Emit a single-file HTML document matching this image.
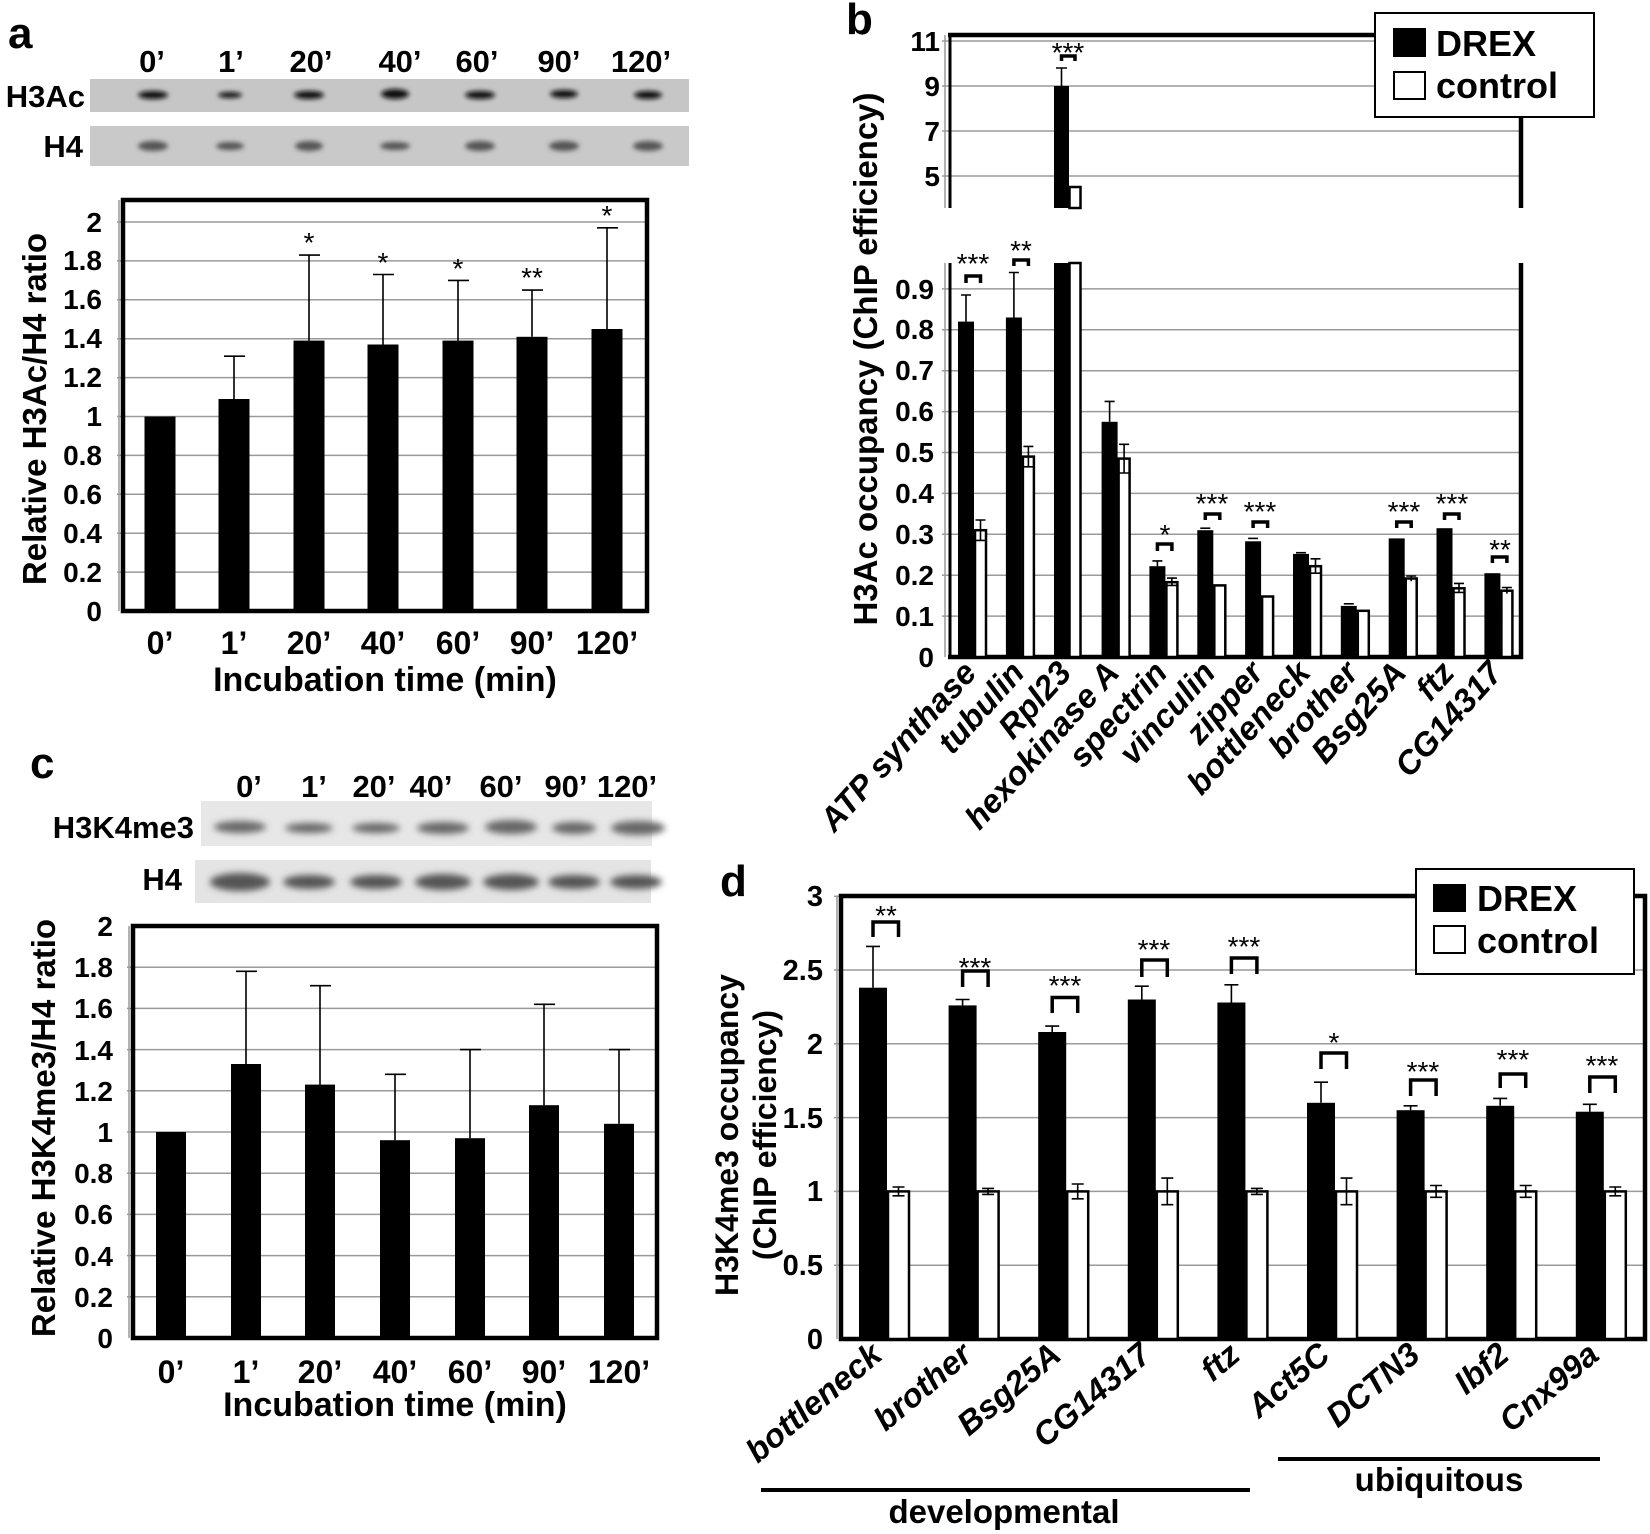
<!DOCTYPE html>
<html><head><meta charset="utf-8"><style>
html,body{margin:0;padding:0;background:#fff;}
svg{display:block;font-family:"Liberation Sans",Arial,sans-serif;font-weight:bold;}
</style></head><body>
<svg width="1650" height="1534" viewBox="0 0 1650 1534" xmlns="http://www.w3.org/2000/svg">
<defs>
<filter id="bl" x="-50%" y="-50%" width="200%" height="200%"><feGaussianBlur stdDeviation="2.5"/></filter>
<filter id="bl2" x="-50%" y="-50%" width="200%" height="200%"><feGaussianBlur stdDeviation="3.5"/></filter>
</defs>

<!-- ===== Panel a ===== -->
<text x="8" y="48" font-size="44">a</text>
<g font-size="31" text-anchor="middle">
<text x="152" y="72">0’</text><text x="231" y="72">1’</text><text x="311" y="72">20’</text><text x="400" y="72">40’</text><text x="477" y="72">60’</text><text x="559" y="72">90’</text><text x="641" y="72">120’</text>
</g>
<text x="85" y="107" font-size="31" text-anchor="end">H3Ac</text>
<text x="83" y="157" font-size="31" text-anchor="end">H4</text>
<rect x="90" y="79" width="599" height="33" fill="#c6c6c6"/>
<rect x="90" y="126" width="599" height="40" fill="#c9c9c9"/>
<g fill="#111" filter="url(#bl)">
<ellipse cx="153" cy="95" rx="15" ry="4"/><ellipse cx="230" cy="95" rx="12" ry="3"/><ellipse cx="309" cy="95" rx="15" ry="4"/><ellipse cx="395" cy="94" rx="14" ry="5"/><ellipse cx="480" cy="95" rx="15" ry="4"/><ellipse cx="564" cy="94" rx="14" ry="4"/><ellipse cx="648" cy="95" rx="14" ry="4"/>
</g>
<g fill="#555" filter="url(#bl)">
<ellipse cx="153" cy="146" rx="15" ry="5"/><ellipse cx="230" cy="146" rx="14" ry="4"/><ellipse cx="309" cy="146" rx="14" ry="5"/><ellipse cx="395" cy="146" rx="15" ry="4"/><ellipse cx="480" cy="146" rx="15" ry="5"/><ellipse cx="564" cy="146" rx="15" ry="5"/><ellipse cx="648" cy="146" rx="15" ry="5"/>
</g>
<g stroke="#9a9a9a" stroke-width="1.5">
<line x1="117" y1="572.1" x2="647" y2="572.1"/><line x1="117" y1="533.2" x2="647" y2="533.2"/><line x1="117" y1="494.3" x2="647" y2="494.3"/><line x1="117" y1="455.4" x2="647" y2="455.4"/><line x1="117" y1="416.5" x2="647" y2="416.5"/><line x1="117" y1="377.6" x2="647" y2="377.6"/><line x1="117" y1="338.7" x2="647" y2="338.7"/><line x1="117" y1="299.8" x2="647" y2="299.8"/><line x1="117" y1="260.9" x2="647" y2="260.9"/><line x1="117" y1="222" x2="647" y2="222"/>
<line x1="119" y1="200" x2="119" y2="611"/>
</g>
<g fill="#000">
<rect x="144.5" y="416.5" width="31" height="194.5"/><rect x="218.5" y="399" width="31" height="212"/><rect x="293.5" y="340.6" width="31" height="270.4"/><rect x="367.5" y="344.5" width="31" height="266.5"/><rect x="442.5" y="340.6" width="31" height="270.4"/><rect x="516.5" y="336.8" width="31" height="274.2"/><rect x="591.5" y="329" width="31" height="282"/>
</g>
<g stroke="#000" stroke-width="1.6">
<path d="M234 399V356.2M224 356.2H245"/><path d="M309 340.6V255.1M299 255.1H320"/><path d="M383 344.5V274.5M373 274.5H394"/><path d="M458 340.6V280.4M448 280.4H469"/><path d="M532 336.8V290.1M522 290.1H543"/><path d="M607 329V227.8M597 227.8H618"/>
</g>
<rect x="123" y="200" width="524" height="411" fill="none" stroke="#000" stroke-width="4.5"/>
<g font-size="28" font-weight="normal" text-anchor="middle">
<text x="309" y="252">*</text><text x="383" y="272">*</text><text x="458" y="278">*</text><text x="532" y="287">**</text><text x="607" y="225">*</text>
</g>
<g font-size="28" text-anchor="end">
<text x="102" y="621">0</text><text x="102" y="582">0.2</text><text x="102" y="543">0.4</text><text x="102" y="504">0.6</text><text x="102" y="465">0.8</text><text x="102" y="426">1</text><text x="102" y="387">1.2</text><text x="102" y="348">1.4</text><text x="102" y="309">1.6</text><text x="102" y="270">1.8</text><text x="102" y="232">2</text>
</g>
<g font-size="32" text-anchor="middle">
<text x="160" y="654">0’</text><text x="234" y="654">1’</text><text x="309" y="654">20’</text><text x="383" y="654">40’</text><text x="458" y="654">60’</text><text x="532" y="654">90’</text><text x="607" y="654">120’</text>
</g>
<text x="385" y="691" font-size="34" text-anchor="middle">Incubation time (min)</text>
<text transform="translate(46,409) rotate(-90)" font-size="33" text-anchor="middle">Relative H3Ac/H4 ratio</text>

<!-- ===== Panel c ===== -->
<text x="30" y="778" font-size="44">c</text>
<g font-size="31" text-anchor="middle">
<text x="249" y="797">0’</text><text x="314" y="797">1’</text><text x="374" y="797">20’</text><text x="431" y="797">40’</text><text x="501" y="797">60’</text><text x="566" y="797">90’</text><text x="627" y="797">120’</text>
</g>
<text x="194" y="838" font-size="31" text-anchor="end">H3K4me3</text>
<text x="182" y="890" font-size="31" text-anchor="end">H4</text>
<rect x="201" y="801" width="451" height="45" fill="#e7e7e7"/>
<rect x="195" y="860" width="456" height="43" fill="#e4e4e4"/>
<g fill="#666" filter="url(#bl2)">
<ellipse cx="240" cy="827" rx="26" ry="6"/><ellipse cx="309" cy="828" rx="24" ry="5"/><ellipse cx="376" cy="828" rx="24" ry="5"/><ellipse cx="443" cy="828" rx="26" ry="6"/><ellipse cx="511" cy="827" rx="26" ry="7"/><ellipse cx="574" cy="828" rx="22" ry="6"/><ellipse cx="638" cy="828" rx="27" ry="7"/>
</g>
<g fill="#555" filter="url(#bl2)">
<ellipse cx="240" cy="882" rx="30" ry="9"/><ellipse cx="309" cy="882" rx="26" ry="7"/><ellipse cx="376" cy="882" rx="26" ry="7"/><ellipse cx="443" cy="882" rx="28" ry="8"/><ellipse cx="511" cy="882" rx="28" ry="8"/><ellipse cx="574" cy="882" rx="26" ry="7"/><ellipse cx="636" cy="882" rx="26" ry="7"/>
</g>
<g stroke="#9a9a9a" stroke-width="1.5">
<line x1="127" y1="1296.8" x2="657" y2="1296.8"/><line x1="127" y1="1255.6" x2="657" y2="1255.6"/><line x1="127" y1="1214.4" x2="657" y2="1214.4"/><line x1="127" y1="1173.2" x2="657" y2="1173.2"/><line x1="127" y1="1132" x2="657" y2="1132"/><line x1="127" y1="1090.8" x2="657" y2="1090.8"/><line x1="127" y1="1049.6" x2="657" y2="1049.6"/><line x1="127" y1="1008.4" x2="657" y2="1008.4"/><line x1="127" y1="967.2" x2="657" y2="967.2"/>
<line x1="129" y1="926" x2="129" y2="1338"/>
</g>
<g fill="#000">
<rect x="156" y="1132" width="30" height="206"/><rect x="231" y="1064" width="30" height="274"/><rect x="305" y="1084.6" width="30" height="253.4"/><rect x="380" y="1140.2" width="30" height="197.8"/><rect x="455" y="1138.2" width="30" height="199.8"/><rect x="529" y="1105.2" width="30" height="232.8"/><rect x="604" y="1123.8" width="30" height="214.2"/>
</g>
<g stroke="#000" stroke-width="1.6">
<path d="M246 1064V971.3M236 971.3H257"/><path d="M320 1084.6V985.7M310 985.7H331"/><path d="M395 1140.2V1074.3M385 1074.3H406"/><path d="M470 1138.2V1049.6M460 1049.6H481"/><path d="M544 1105.2V1004.3M534 1004.3H555"/><path d="M619 1123.8V1049.6M609 1049.6H630"/>
</g>
<rect x="133" y="926" width="524" height="412" fill="none" stroke="#000" stroke-width="4.5"/>
<g font-size="28" text-anchor="end">
<text x="113" y="1348">0</text><text x="113" y="1307">0.2</text><text x="113" y="1266">0.4</text><text x="113" y="1224">0.6</text><text x="113" y="1183">0.8</text><text x="113" y="1142">1</text><text x="113" y="1101">1.2</text><text x="113" y="1060">1.4</text><text x="113" y="1018">1.6</text><text x="113" y="977">1.8</text><text x="113" y="936">2</text>
</g>
<g font-size="32" text-anchor="middle">
<text x="171" y="1383">0’</text><text x="246" y="1383">1’</text><text x="320" y="1383">20’</text><text x="395" y="1383">40’</text><text x="470" y="1383">60’</text><text x="544" y="1383">90’</text><text x="619" y="1383">120’</text>
</g>
<text x="395" y="1416" font-size="34" text-anchor="middle">Incubation time (min)</text>
<text transform="translate(55,1128) rotate(-90)" font-size="33" text-anchor="middle">Relative H3K4me3/H4 ratio</text>

<!-- ===== Panel b ===== -->
<text x="846" y="34" font-size="44">b</text>
<g stroke="#9a9a9a" stroke-width="1.5">
<line x1="942" y1="41" x2="1521" y2="41"/><line x1="942" y1="86" x2="1521" y2="86"/><line x1="942" y1="131" x2="1521" y2="131"/><line x1="942" y1="176" x2="1521" y2="176"/>
<line x1="942" y1="616.1" x2="1521" y2="616.1"/><line x1="942" y1="575.2" x2="1521" y2="575.2"/><line x1="942" y1="534.3" x2="1521" y2="534.3"/><line x1="942" y1="493.4" x2="1521" y2="493.4"/><line x1="942" y1="452.5" x2="1521" y2="452.5"/><line x1="942" y1="411.6" x2="1521" y2="411.6"/><line x1="942" y1="370.7" x2="1521" y2="370.7"/><line x1="942" y1="329.8" x2="1521" y2="329.8"/><line x1="942" y1="288.9" x2="1521" y2="288.9"/>
<line x1="945" y1="35" x2="945" y2="208"/><line x1="945" y1="263" x2="945" y2="657"/>
</g>
<g stroke="#000" stroke-width="3" fill="none">
<line x1="950" y1="35" x2="950" y2="208"/><line x1="950" y1="263" x2="950" y2="657"/>
<line x1="948" y1="35" x2="1521" y2="35" stroke-width="4.5"/>
<line x1="1521" y1="33" x2="1521" y2="208" stroke-width="4.5"/>
<line x1="1521" y1="263" x2="1521" y2="659" stroke-width="4.5"/>
<line x1="948" y1="657" x2="1523" y2="657" stroke-width="4.5"/>
</g>
<rect x="1054" y="86" width="15" height="122" fill="#000"/>
<rect x="1069.5" y="187" width="11" height="21" fill="#fff" stroke="#000" stroke-width="2.5"/>
<rect x="1054" y="263" width="15" height="394" fill="#000"/>
<rect x="1069.5" y="263" width="11" height="394" fill="#fff" stroke="#000" stroke-width="2.5"/>
<path d="M1061.5 86V68M1056 68H1067" stroke="#000" stroke-width="1.6"/>
<g fill="#000">
<rect x="958" y="321.6" width="16" height="335.4"/>
<rect x="1005.9" y="317.5" width="16" height="339.5"/>
<rect x="1101.6" y="421.8" width="16" height="235.2"/>
<rect x="1149.4" y="566.2" width="16" height="90.8"/>
<rect x="1197.3" y="530.2" width="16" height="126.8"/>
<rect x="1245.1" y="541.3" width="16" height="115.7"/>
<rect x="1293" y="553.9" width="16" height="103.1"/>
<rect x="1340.8" y="605.9" width="16" height="51.1"/>
<rect x="1388.7" y="538.4" width="16" height="118.6"/>
<rect x="1436.5" y="528.2" width="16" height="128.8"/>
<rect x="1484.4" y="573.2" width="16" height="83.8"/>
</g>
<g fill="#fff" stroke="#000" stroke-width="2.5">
<rect x="975" y="530.2" width="11" height="126.8"/>
<rect x="1022.9" y="456.6" width="11" height="200.4"/>
<rect x="1118.6" y="458.6" width="11" height="198.4"/>
<rect x="1166.4" y="582.2" width="11" height="74.8"/>
<rect x="1214.3" y="585.4" width="11" height="71.6"/>
<rect x="1262.1" y="596.5" width="11" height="60.5"/>
<rect x="1310" y="566.2" width="11" height="90.8"/>
<rect x="1357.8" y="610.8" width="11" height="46.2"/>
<rect x="1405.7" y="578.5" width="11" height="78.5"/>
<rect x="1453.5" y="588.3" width="11" height="68.7"/>
<rect x="1501.4" y="590.7" width="11" height="66.3"/>
</g>
<g stroke="#000" stroke-width="1.6">
<path d="M966 321.6V295M961 295H971"/>
<path d="M1013.9 317.5V272.5M1008.9 272.5H1018.9"/>
<path d="M1109.6 421.8V401.4M1104.6 401.4H1114.6"/>
<path d="M1157.4 566.2V560.9M1152.4 560.9H1162.4"/>
<path d="M1200.3 528.2H1210.3"/><path d="M1248.1 538.4H1258.1"/><path d="M1296 552.7H1306"/><path d="M1343.8 603.8H1353.8"/>
<path d="M980.5 520V540.4M975.5 520H985.5M975.5 540.4H985.5"/>
<path d="M1028.4 446.4V466.8M1023.4 446.4H1033.4M1023.4 466.8H1033.4"/>
<path d="M1124.1 444.3V473M1119.1 444.3H1129.1M1119.1 473H1129.1"/>
<path d="M1171.9 578.1V585.4M1166.9 578.1H1176.9M1166.9 585.4H1176.9"/>
<path d="M1315.5 558.8V573.2M1310.5 558.8H1320.5M1310.5 573.2H1320.5"/>
<path d="M1411.2 576V581.3M1406.2 576H1416.2"/>
<path d="M1459 583.4V592.4M1454 583.4H1464M1454 592.4H1464"/>
<path d="M1506.9 587.5V593.6M1501.9 587.5H1511.9"/>
</g>
<g stroke="#000" stroke-width="3.5" fill="none">
<path d="M966 283V276H980.5V283"/>
<path d="M1013.9 266V260H1028.4V266"/>
<path d="M1061.5 61V56H1075V61"/>
<path d="M1157.4 551V544H1171.9V551"/>
<path d="M1205.3 520V514H1219.8V520"/>
<path d="M1253.1 528V522H1267.6V528"/>
<path d="M1396.7 528V522H1411.2V528"/>
<path d="M1444.5 520V514H1459V520"/>
<path d="M1492.4 563V557H1506.9V563"/>
</g>
<g font-size="28" font-weight="normal" text-anchor="middle">
<text x="973" y="273">***</text>
<text x="1021" y="260">**</text>
<text x="1068" y="62">***</text>
<text x="1165" y="544">*</text>
<text x="1212" y="513">***</text>
<text x="1260" y="521">***</text>
<text x="1404" y="521">***</text>
<text x="1452" y="513">***</text>
<text x="1500" y="559">**</text>
</g>
<g font-size="28" text-anchor="end">
<text x="940" y="51">11</text><text x="940" y="96">9</text><text x="940" y="141">7</text><text x="940" y="186">5</text>
<text x="934" y="667">0</text><text x="934" y="626">0.1</text><text x="934" y="585">0.2</text><text x="934" y="544">0.3</text><text x="934" y="503">0.4</text><text x="934" y="462">0.5</text><text x="934" y="421">0.6</text><text x="934" y="380">0.7</text><text x="934" y="339">0.8</text><text x="934" y="299">0.9</text>
</g>
<text transform="translate(877,359) rotate(-90)" font-size="33" text-anchor="middle">H3Ac occupancy (ChIP efficiency)</text>
<g font-size="33" font-style="italic" text-anchor="end">
<text transform="translate(978,674) rotate(-48)">ATP synthase</text>
<text transform="translate(1026,674) rotate(-48)">tubulin</text>
<text transform="translate(1073,674) rotate(-48)">Rpl23</text>
<text transform="translate(1121,674) rotate(-48)">hexokinase A</text>
<text transform="translate(1169,674) rotate(-48)">spectrin</text>
<text transform="translate(1217,674) rotate(-48)">vinculin</text>
<text transform="translate(1265,674) rotate(-48)">zipper</text>
<text transform="translate(1312,674) rotate(-48)">bottleneck</text>
<text transform="translate(1360,674) rotate(-48)">brother</text>
<text transform="translate(1408,674) rotate(-48)">Bsg25A</text>
<text transform="translate(1456,674) rotate(-48)">ftz</text>
<text transform="translate(1504,674) rotate(-48)">CG14317</text>
</g>
<rect x="1375" y="13" width="219" height="104" fill="#fff" stroke="#000" stroke-width="2"/>
<rect x="1393" y="28" width="33" height="29" fill="#000"/>
<rect x="1394" y="72" width="31" height="27" fill="#fff" stroke="#000" stroke-width="2"/>
<text x="1436" y="56" font-size="36">DREX</text>
<text x="1436" y="98" font-size="36">control</text>

<!-- ===== Panel d ===== -->
<text x="720" y="896" font-size="44">d</text>
<g stroke="#9a9a9a" stroke-width="1.5">
<line x1="834" y1="1265.2" x2="1645" y2="1265.2"/><line x1="834" y1="1191.4" x2="1645" y2="1191.4"/><line x1="834" y1="1117.6" x2="1645" y2="1117.6"/><line x1="834" y1="1043.8" x2="1645" y2="1043.8"/><line x1="834" y1="970" x2="1645" y2="970"/><line x1="834" y1="896.2" x2="1645" y2="896.2"/>
<line x1="837" y1="896" x2="837" y2="1339"/>
</g>
<g stroke="#000" fill="none" stroke-width="4.5">
<path d="M841 896H1645V1339H841Z"/>
</g>
<g fill="#000">
<rect x="859" y="987.7" width="28" height="351.3"/>
<rect x="948.6" y="1005.4" width="28" height="333.6"/>
<rect x="1038.2" y="1032" width="28" height="307"/>
<rect x="1127.8" y="999.5" width="28" height="339.5"/>
<rect x="1217.4" y="1002.5" width="28" height="336.5"/>
<rect x="1307" y="1102.8" width="28" height="236.2"/>
<rect x="1396.6" y="1110.2" width="28" height="228.8"/>
<rect x="1486.2" y="1105.8" width="28" height="233.2"/>
<rect x="1575.8" y="1111.7" width="28" height="227.3"/>
</g>
<g fill="#fff" stroke="#000" stroke-width="2.5">
<rect x="888" y="1191.4" width="21" height="147.6"/>
<rect x="977.6" y="1191.4" width="21" height="147.6"/>
<rect x="1067.2" y="1191.4" width="21" height="147.6"/>
<rect x="1156.8" y="1191.4" width="21" height="147.6"/>
<rect x="1246.4" y="1191.4" width="21" height="147.6"/>
<rect x="1336" y="1191.4" width="21" height="147.6"/>
<rect x="1425.6" y="1191.4" width="21" height="147.6"/>
<rect x="1515.2" y="1191.4" width="21" height="147.6"/>
<rect x="1604.8" y="1191.4" width="21" height="147.6"/>
</g>
<g stroke="#000" stroke-width="1.6">
<path d="M873 987.7V946.4M866 946.4H880"/>
<path d="M962.6 1005.4V999.5M955.6 999.5H969.6"/>
<path d="M1052.2 1032V1026.1M1045.2 1026.1H1059.2"/>
<path d="M1141.8 999.5V986.2M1134.8 986.2H1148.8"/>
<path d="M1231.4 1002.5V984.8M1224.4 984.8H1238.4"/>
<path d="M1321 1102.8V1082.2M1314 1082.2H1328"/>
<path d="M1410.6 1110.2V1105.8M1403.6 1105.8H1417.6"/>
<path d="M1500.2 1105.8V1098.4M1493.2 1098.4H1507.2"/>
<path d="M1589.8 1111.7V1104.3M1582.8 1104.3H1596.8"/>
<path d="M898.5 1187V1195.8M892.5 1187H904.5M892.5 1195.8H904.5"/>
<path d="M988.1 1188.4V1194.4M982.1 1188.4H994.1M982.1 1194.4H994.1"/>
<path d="M1077.7 1184V1198.8M1071.7 1184H1083.7M1071.7 1198.8H1083.7"/>
<path d="M1167.3 1178.1V1204.7M1161.3 1178.1H1173.3M1161.3 1204.7H1173.3"/>
<path d="M1256.9 1188.4V1194.4M1250.9 1188.4H1262.9M1250.9 1194.4H1262.9"/>
<path d="M1346.5 1178.1V1204.7M1340.5 1178.1H1352.5M1340.5 1204.7H1352.5"/>
<path d="M1436.1 1185.5V1197.3M1430.1 1185.5H1442.1M1430.1 1197.3H1442.1"/>
<path d="M1525.7 1185.5V1197.3M1519.7 1185.5H1531.7M1519.7 1197.3H1531.7"/>
<path d="M1615.3 1187V1195.8M1609.3 1187H1621.3M1609.3 1195.8H1621.3"/>
</g>
<g stroke="#000" stroke-width="3.5" fill="none">
<path d="M873 937V922H898.5V937"/>
<path d="M962.6 987V971H988.1V987"/>
<path d="M1052.2 1013V997.5H1077.7V1013"/>
<path d="M1141.8 977V960H1167.3V977"/>
<path d="M1231.4 974V958H1256.9V974"/>
<path d="M1321 1069V1053H1346.5V1069"/>
<path d="M1410.6 1096V1080H1436.1V1096"/>
<path d="M1500.2 1088V1074H1525.7V1088"/>
<path d="M1589.8 1093V1077H1615.3V1093"/>
</g>
<g font-size="28" font-weight="normal" text-anchor="middle">
<text x="886" y="925">**</text>
<text x="975" y="977">***</text>
<text x="1065" y="995">***</text>
<text x="1154" y="959">***</text>
<text x="1244" y="956">***</text>
<text x="1334" y="1052">*</text>
<text x="1423" y="1081">***</text>
<text x="1513" y="1069">***</text>
<text x="1602" y="1075">***</text>
</g>
<g font-size="29" text-anchor="end">
<text x="823" y="1349">0</text><text x="823" y="1275">0.5</text><text x="823" y="1201">1</text><text x="823" y="1128">1.5</text><text x="823" y="1054">2</text><text x="823" y="980">2.5</text><text x="823" y="906">3</text>
</g>
<text transform="translate(738,1135) rotate(-90)" font-size="32" text-anchor="middle">H3K4me3 occupancy</text>
<text transform="translate(776,1135) rotate(-90)" font-size="32" text-anchor="middle">(ChIP efficiency)</text>
<g font-size="33" font-style="italic" text-anchor="end">
<text transform="translate(884,1358) rotate(-40)">bottleneck</text>
<text transform="translate(974,1358) rotate(-40)">brother</text>
<text transform="translate(1063,1358) rotate(-40)">Bsg25A</text>
<text transform="translate(1153,1358) rotate(-40)">CG14317</text>
<text transform="translate(1242,1358) rotate(-40)">ftz</text>
<text transform="translate(1332,1358) rotate(-40)">Act5C</text>
<text transform="translate(1422,1358) rotate(-40)">DCTN3</text>
<text transform="translate(1511,1358) rotate(-40)">Ibf2</text>
<text transform="translate(1601,1358) rotate(-40)">Cnx99a</text>
</g>
<rect x="761" y="1488" width="489" height="4" fill="#000"/>
<rect x="1278" y="1457" width="322" height="4" fill="#000"/>
<text x="1004" y="1523" font-size="33" text-anchor="middle">developmental</text>
<text x="1439" y="1491" font-size="33" text-anchor="middle">ubiquitous</text>
<rect x="1416" y="869" width="218" height="105" fill="#fff" stroke="#000" stroke-width="2"/>
<rect x="1433" y="884" width="33" height="28" fill="#000"/>
<rect x="1434" y="926" width="31" height="27" fill="#fff" stroke="#000" stroke-width="2"/>
<text x="1477" y="911" font-size="36">DREX</text>
<text x="1477" y="953" font-size="36">control</text>
</svg>
</body></html>
